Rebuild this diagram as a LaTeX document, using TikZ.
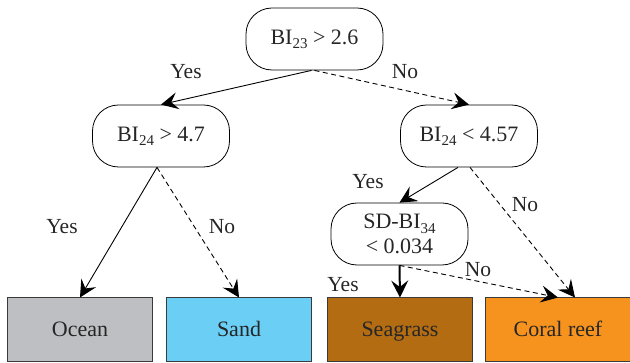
\documentclass[tikz,border=0pt]{standalone}
\usepackage{fontspec}
\setmainfont{Liberation Serif}
\usetikzlibrary{arrows.meta,calc}
\definecolor{oceanc}{HTML}{BEBFC2}
\definecolor{sandc}{HTML}{6ACEF5}
\definecolor{seagc}{HTML}{B46C13}
\definecolor{coralc}{HTML}{F6921E}
\definecolor{edgec}{HTML}{3A3A3A}
\newcommand\sbs[1]{\raisebox{-0.2em}{\fontsize{15}{15}\selectfont #1}}
\begin{document}
\begin{tikzpicture}[x=1pt,y=-1pt,
  dec/.style={draw=black,line width=0.8pt,rounded corners=26pt,minimum width=137pt,minimum height=62pt,inner sep=0pt,align=center,font=\fontsize{22}{26}\selectfont,text=black!85},
  leaf/.style={draw=edgec,line width=1pt,minimum width=145pt,minimum height=64pt,inner sep=0pt,text height=17pt,text depth=4pt,font=\fontsize{22}{26}\selectfont,text=black!85},
  tip/.style={-{Stealth[length=17pt,width=17pt,inset=6.5pt]}},
  yes/.style={draw=black,line width=0.9pt,tip},
  no/.style={draw=black,line width=0.9pt,dash pattern=on 5pt off 3.5pt,tip},
  lab/.style={font=\fontsize{21.5}{24}\selectfont,inner sep=0pt,text=black!85}]
\useasboundingbox (0,0) rectangle (630,363);
\node[dec] (root) at (314.5,39) {BI\sbs{23} > 2.6};
\node[dec] (l) at (161,136) {BI\sbs{24} > 4.7};
\node[dec] (r) at (469,136) {BI\sbs{24} < 4.57};
\node[dec] (sd) at (399.5,234) {SD-BI\sbs{34}\\[-1pt]< 0.034};
\node[leaf,fill=oceanc] (ocean) at (80,330) {Ocean};
\node[leaf,fill=sandc] (sand) at (239,330) {Sand};
\node[leaf,fill=seagc] (seag) at (400,330) {Seagrass};
\node[leaf,fill=coralc] (coral) at (558,330) {Coral reef};
\draw[yes] ($(root.south)+(-3,0)$) -- (l.north);
\draw[no] (root.south) -- (r.north);
\draw[yes] ($(l.south)+(-4,0)$) -- (ocean.north);
\draw[no] ($(l.south)+(-4,0)$) -- (sand.north);
\draw[yes] ($(r.south)+(-11,0)$) -- (sd.north);
\draw[no] ($(r.south)+(1,0)$) -- ($(coral.north)+(17,0)$);
\draw[yes,line width=2pt] (sd.south) -- (seag.north);
\draw[no] (sd.south) -- (coral.north);
\node[lab] at (186,72) {Yes};
\node[lab] at (405,72) {No};
\node[lab] at (62,227) {Yes};
\node[lab] at (222,227) {No};
\node[lab] at (368,182) {Yes};
\node[lab] at (525,205) {No};
\node[lab] at (343,285) {Yes};
\node[lab] at (478,270) {No};
\end{tikzpicture}
\end{document}
